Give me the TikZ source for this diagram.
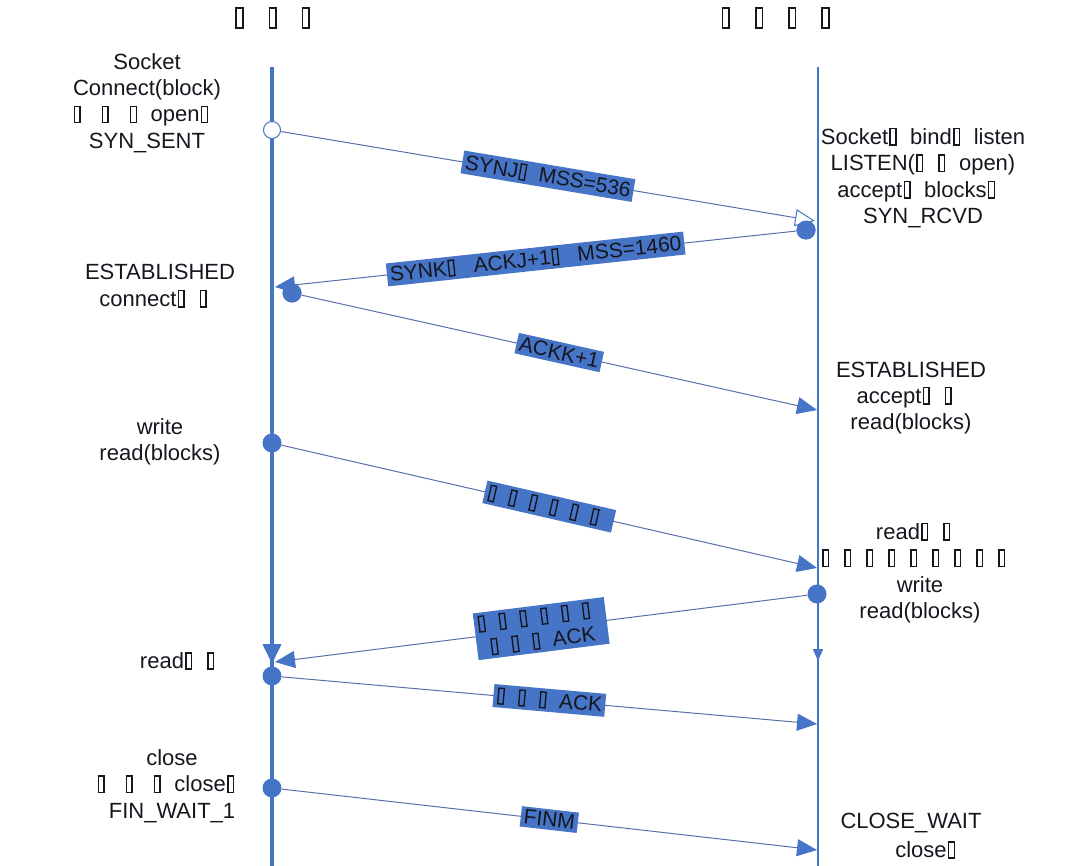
\documentclass[tikz,border=0pt]{standalone}
\usepackage{fontspec}
\setmainfont{Liberation Sans}
\usetikzlibrary{arrows.meta}
\definecolor{bl}{RGB}{70,116,198}
\definecolor{ln}{RGB}{88,112,170}
\definecolor{tx}{RGB}{22,22,30}
\newcommand\tf{\hbox to 1em{\kern0.06em{\setlength\fboxsep{0pt}\setlength\fboxrule{0.065em}\fbox{\rule{0pt}{0.68em}\rule{0.19em}{0pt}}}\hss}}
\begin{document}
\begin{tikzpicture}[x=1pt,y=-1pt,font=\fontsize{22}{26.4}\selectfont]
\tikzset{
 msg/.style={draw=ln, line width=1pt},
 fulltip/.style={-{Triangle[length=20pt,width=17pt,color=bl]}},
 opentip/.style={-{Triangle[open,length=20pt,width=17pt,color=bl,fill=white]}},
 lab/.style={fill=bl, text=tx, inner xsep=3pt, inner ysep=3pt, sloped, pos=0.5, align=center, font=\fontsize{21}{24}\selectfont},
 dot/.style={circle, fill=bl, minimum size=19pt, inner sep=0pt},
 odot/.style={circle, draw=bl, fill=white, line width=1pt, minimum size=17pt, inner sep=0pt},
 txt/.style={align=center, text=tx},
}
\useasboundingbox (0,0) rectangle (1080,866);
% titles
\node[txt, font=\fontsize{26}{30}\selectfont] (t1) at (280,18) {\tf\ \tf\ \tf};
\node[txt, font=\fontsize{26}{30}\selectfont] (t2) at (783,18) {\tf\ \tf\ \tf\ \tf};
% lifelines
\coordinate (Lt) at (272,67); \coordinate (Lb) at (272,866);
\coordinate (Rt) at (818,67); \coordinate (Rb) at (818,866);
\draw[bl, line width=4pt] (Lt) -- (Lb);
\draw[bl, line width=1.5pt] (Rt) -- (Rb);
\coordinate (la1) at (272,640); \coordinate (la2) at (272,664);
\draw[bl, line width=4pt, -{Triangle[length=20pt,width=18pt]}] (la1) -- (la2);
\coordinate (ra1) at (818,645); \coordinate (ra2) at (818,661);
\draw[bl, line width=1.5pt, -{Triangle[length=12pt,width=10pt]}] (ra1) -- (ra2);
% event points
\node[odot] (s1) at (272,130) {};
\node[dot] (r1) at (806,230) {};
\node[dot] (l2) at (292,293) {};
\node[dot] (l3) at (272,443) {};
\node[dot] (r2) at (817,594) {};
\node[dot] (l4) at (272,676) {};
\node[dot] (l5) at (272,788) {};
\coordinate (e1) at (815,221);
\coordinate (e2) at (275,287);
\coordinate (e3) at (817,410);
\coordinate (e4) at (817,568);
\coordinate (e5) at (275,662);
\coordinate (e6) at (817,724);
\coordinate (e7) at (817,850);
% messages
\draw[msg, opentip] (s1) -- (e1) node[lab] {SYNJ\tf MSS=536};
\node[dot] at (r1) {};
\draw[msg, fulltip] (r1) -- (e2) node[lab] {SYNK\tf\ ACKJ+1\tf\ MSS=1460};
\node[dot] at (l2) {};
\draw[msg, fulltip] (l2) -- (e3) node[lab] {ACKK+1};
\draw[msg, fulltip] (l3) -- (e4) node[lab] {\tf\tf\tf\tf\tf\tf};
\draw[msg, fulltip] (r2) -- (e5) node[lab] {\tf\tf\tf\tf\tf\tf\\\tf\tf\tf ACK};
\draw[msg, fulltip] (l4) -- (e6) node[lab] {\tf\tf\tf ACK};
\draw[msg, fulltip] (l5) -- (e7) node[lab] {FINM};
% left texts
\node[txt] (tl1) at (147,103) {Socket\\Connect(block)\\\tf\ \tf\ \tf open\tf\\SYN\_SENT};
\node[txt] (tl2) at (160,286) {ESTABLISHED\\connect\tf\tf};
\node[txt] (tl3) at (160,442) {write\\read(blocks)};
\node[txt] (tl4) at (184,661) {read\tf\tf};
\node[txt] (tl5) at (172,786) {close\\\tf\ \tf\ \tf close\tf\\FIN\_WAIT\_1};
% right texts
\node[txt] (tr1) at (923,178) {Socket\tf bind\tf listen\\LISTEN(\tf\tf open)\\accept\tf blocks\tf\\SYN\_RCVD};
\node[txt] (tr2) at (911,398) {ESTABLISHED\\accept\tf\tf\\read(blocks)};
\node[txt] (tr3) at (920,573) {read\tf\tf\\\tf\tf\tf\tf\tf\tf\tf\tf\tf\\write\\read(blocks)};
\node[txt] (tr4) at (911,823) {CLOSE\_WAIT};
\node[txt] (tr5) at (932,850) {close\tf};
\end{tikzpicture}
\end{document}
